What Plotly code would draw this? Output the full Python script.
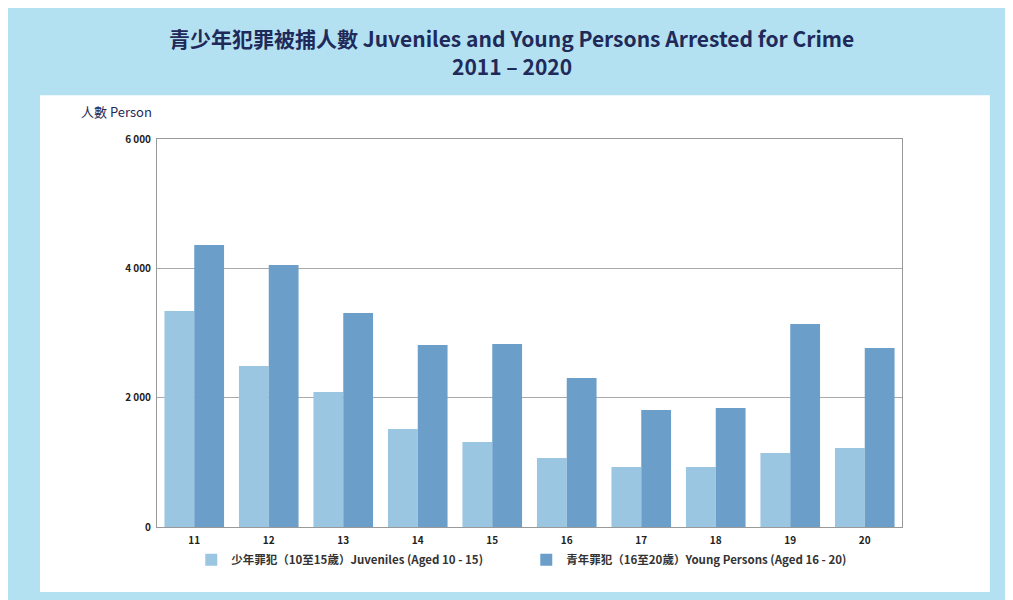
import plotly.graph_objects as go

years = ["11", "12", "13", "14", "15", "16", "17", "18", "19", "20"]
juveniles = [3340, 2490, 2088, 1515, 1314, 1067, 928, 928, 1144, 1222]
young_persons = [4361, 4052, 3309, 2814, 2830, 2304, 1809, 1840, 3139, 2768]
y_ticks = [0, 2000, 4000, 6000]
y_tick_text = ["0", "2 000", "4 000", "6 000"]
title_lines = ["青少年犯罪被捕人數 Juveniles and Young Persons Arrested for Crime", "2011 – 2020"]

CJK = "Noto Sans CJK TC"
NAVY = "#1f2a5a"

fig = go.Figure()
fig.add_trace(go.Bar(
    x=years, y=juveniles, name="少年罪犯（10至15歲）Juveniles (Aged 10 - 15)",
    marker=dict(color="#9ac6e2", line=dict(width=0)),
))
fig.add_trace(go.Bar(
    x=years, y=young_persons, name="青年罪犯（16至20歲）Young Persons (Aged 16 - 20)",
    marker=dict(color="#6b9fca", line=dict(width=0)),
))

# white inner panel
fig.add_shape(type="rect", xref="paper", yref="paper",
              x0=-0.157, x1=1.118, y0=-0.1675, y1=1.113,
              fillcolor="white", line=dict(width=0), layer="below")

annotations = [
    dict(text=title_lines[0], xref="paper", yref="paper",
         x=0.476, y=(519 - 29.5) / 388, xanchor="center", yanchor="middle", showarrow=False,
         borderpad=0, font=dict(family=CJK, size=21, color=NAVY, weight="bold")),
    dict(text=title_lines[1], xref="paper", yref="paper",
         x=0.476, y=(519 - 58) / 388, xanchor="center", yanchor="middle", showarrow=False,
         borderpad=0, font=dict(family=CJK, size=21, color=NAVY, weight="bold")),
    dict(text="人數 Person", xref="paper", yref="paper",
         x=-0.105, y=1.07, xanchor="left", yanchor="middle", showarrow=False,
         font=dict(family=CJK, size=13, color=NAVY)),
]

fig.update_layout(
    width=998, height=592,
    margin=dict(l=149, r=104, t=131, b=73, autoexpand=False),
    paper_bgcolor="#b3e1f1",
    plot_bgcolor="white",
    barmode="group",
    bargap=0.2,
    bargroupgap=0,
    font=dict(family=CJK, color="#222"),
    legend=dict(
        orientation="h", x=0.046, xanchor="left", y=-0.047, yanchor="top",
        font=dict(family=CJK, size=11.5, color="#333", weight="bold"),
        entrywidth=290, bgcolor="rgba(0,0,0,0)", itemwidth=30,
        tracegroupgap=0,
    ),
    xaxis=dict(
        showline=True, linecolor="#999", linewidth=1, mirror=True,
        tickfont=dict(size=10, color="#222", weight="bold"),
        ticks="", showgrid=False, ticklabelstandoff=4,
    ),
    yaxis=dict(
        range=[0, 6000], tickvals=y_ticks, ticktext=y_tick_text,
        showline=True, linecolor="#999", linewidth=1, mirror=True,
        showgrid=True, gridcolor="#aaa", gridwidth=1,
        tickfont=dict(size=10, color="#222", weight="bold"),
        ticks="", ticklabelstandoff=3, zeroline=False,
    ),
    annotations=annotations,
)

fig.write_html("out.html")
